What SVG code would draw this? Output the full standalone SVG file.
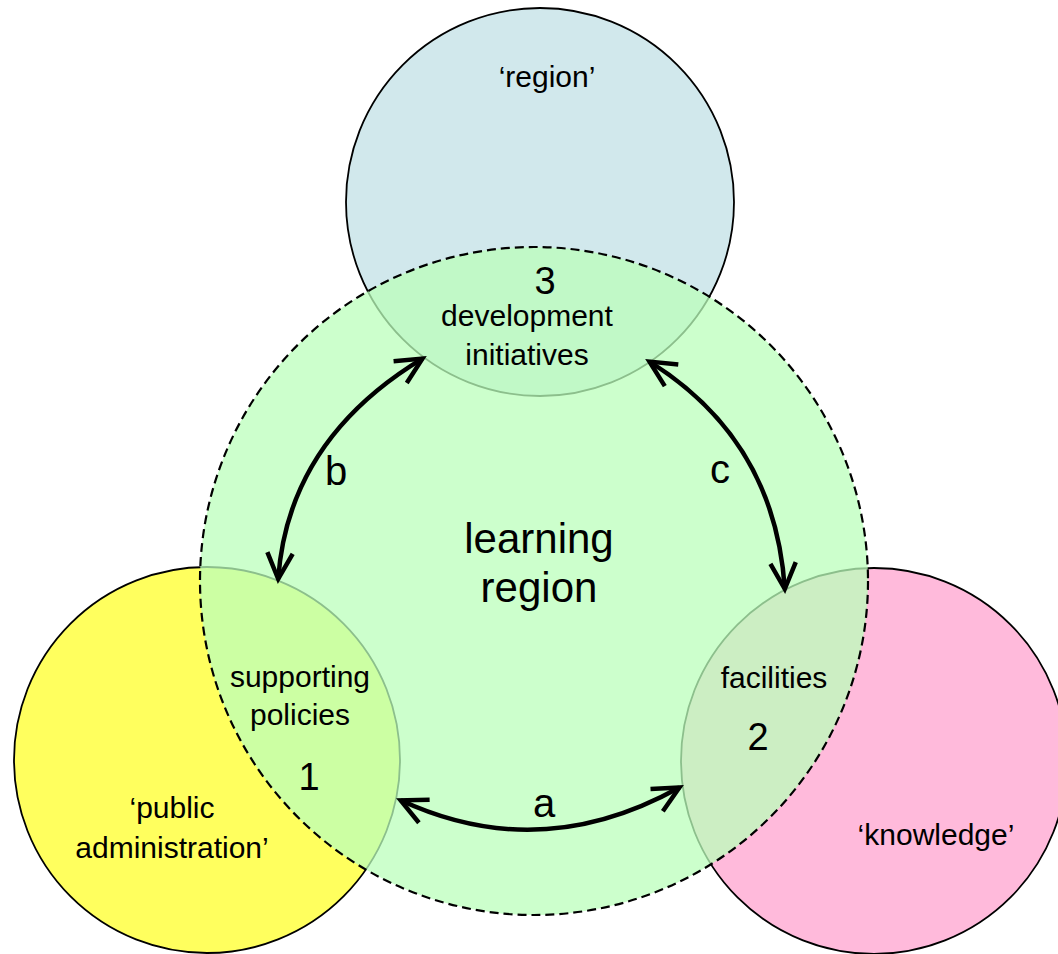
<svg xmlns="http://www.w3.org/2000/svg" width="1058" height="954" viewBox="0 0 1058 954">
<style>
.txt{font-family:"Liberation Sans",Arial,sans-serif;fill:#000;text-anchor:middle}
.lbl{font-size:30px}
.num{font-size:38px}
.big{font-size:42px}
.let{font-size:40px}
.outer{stroke:#000;stroke-width:1.8}
.conn{fill:none;stroke:#000;stroke-width:4.5;marker-start:url(#arr);marker-end:url(#arr)}
</style>
<defs>
<marker id="arr" markerUnits="userSpaceOnUse" viewBox="-40 -20 50 40" markerWidth="50" markerHeight="40" refX="0" refY="0" orient="auto-start-reverse">
<path d="M-26,-12.7 L0,0 L-26,12.7" fill="none" stroke="#000" stroke-width="4.5" stroke-linejoin="miter"/>
</marker>
</defs>
<rect width="1058" height="954" fill="#fff"/>
<g id="node-public-administration">
<circle class="outer" cx="207" cy="760" r="193" fill="#FFFF5E"/>
<text class="txt lbl" x="172" y="818">‘public</text>
<text class="txt lbl" x="172" y="858">administration’</text>
</g>
<g id="node-knowledge">
<circle class="outer" cx="874" cy="761" r="193" fill="#FFBADB"/>
<text class="txt lbl" x="936" y="845">‘knowledge’</text>
</g>
<g id="node-region">
<circle class="outer" cx="540" cy="202" r="194" fill="#D1E8EC"/>
<text class="txt lbl" x="547" y="87">‘region’</text>
</g>
<g id="node-learning-region">
<circle cx="534" cy="581" r="334" fill="#BBFFBB" fill-opacity="0.75"/>
<circle cx="534" cy="581" r="334" fill="none" stroke="#000" stroke-width="2.2" stroke-dasharray="9 5"/>
<text class="txt big" x="539" y="553">learning</text>
<text class="txt big" x="539" y="602">region</text>
</g>
<g id="overlap-3-development-initiatives">
<text class="txt num" x="545" y="294">3</text>
<text class="txt lbl" x="527" y="326">development</text>
<text class="txt lbl" x="527" y="365">initiatives</text>
</g>
<g id="overlap-1-supporting-policies">
<text class="txt lbl" x="300" y="687">supporting</text>
<text class="txt lbl" x="300" y="725">policies</text>
<text class="txt num" x="309" y="790">1</text>
</g>
<g id="overlap-2-facilities">
<text class="txt lbl" x="774" y="688">facilities</text>
<text class="txt num" x="758" y="750">2</text>
</g>
<g id="connectors">
<path id="conn-a" class="conn" d="M400.7,800.3 Q540,865 679.4,787.5"/>
<path id="conn-b" class="conn" d="M422.4,358.6 Q288,440 278.2,579"/>
<path id="conn-c" class="conn" d="M649.5,361.6 Q775,440 784.8,589"/>
<text class="txt let" x="544" y="817">a</text>
<text class="txt let" x="336" y="485">b</text>
<text class="txt let" x="720" y="483">c</text>
</g>
</svg>
